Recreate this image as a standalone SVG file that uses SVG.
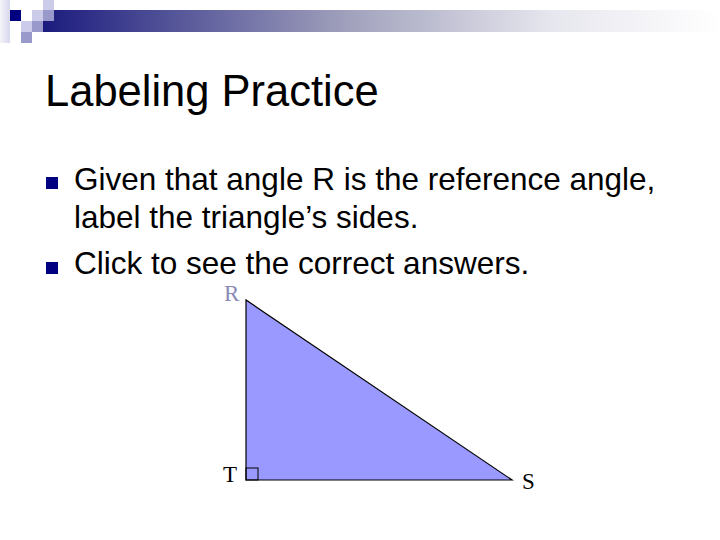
<svg xmlns="http://www.w3.org/2000/svg" width="720" height="540" viewBox="0 0 720 540">
<defs>
<linearGradient id="bar" x1="0" y1="0" x2="1" y2="0">
<stop offset="0" stop-color="#1a1a7e"/>
<stop offset="0.45" stop-color="#a0a0bc"/>
<stop offset="0.75" stop-color="#e6e6ee"/>
<stop offset="1" stop-color="#ffffff"/>
</linearGradient>
<linearGradient id="side" x1="0" y1="0" x2="1" y2="0">
<stop offset="0" stop-color="#f4f4fa"/>
<stop offset="1" stop-color="#d8d8ee"/>
</linearGradient>
<style>
.body{font-family:"Liberation Sans",Arial,sans-serif;font-size:31.5px;fill:#000}
.lbl{font-family:"Liberation Serif","Times New Roman",serif;font-size:23px}
.bul{fill:#000080}
</style>
</defs>
<g id="header">
<rect x="0" y="0" width="10" height="43" fill="url(#side)"/>
<rect x="40" y="10" width="680" height="22" fill="url(#bar)"/>
<rect x="10" y="10" width="11" height="11" fill="#000080"/>
<rect x="21" y="21" width="11" height="11" fill="#ccccea"/>
<rect x="21" y="32" width="11" height="11" fill="#9999cc"/>
<rect x="32" y="10" width="11" height="11" fill="#ccccea"/>
<rect x="32" y="21" width="11" height="11" fill="#9999cc"/>
<rect x="43" y="0" width="11" height="10" fill="#ccccea"/>
<rect x="43" y="10" width="11" height="11" fill="#9999cc"/>
</g>
<g id="title">
<text x="45" y="106" font-family="'Liberation Sans',Arial,sans-serif" font-size="43.5" fill="#000">Labeling Practice</text>
</g>
<g id="bullets">
<rect class="bul" x="46" y="177" width="12" height="12"/>
<text class="body" x="74" y="190">Given that angle R is the reference angle,</text>
<text class="body" x="74" y="228">label the triangle’s sides.</text>
<rect class="bul" x="46" y="262" width="12" height="12"/>
<text class="body" x="74" y="274">Click to see the correct answers.</text>
</g>
<g id="triangle">
<polygon points="246,300 246,480 512,480" fill="#9999ff" stroke="#000" stroke-width="1.2"/>
<rect x="246" y="468" width="12" height="12" fill="none" stroke="#000" stroke-width="1"/>
</g>
<g id="labels">
<text class="lbl" x="224" y="301" fill="#8a8ab4">R</text>
<text class="lbl" x="223" y="482" fill="#000">T</text>
<text class="lbl" x="522" y="489" fill="#000">S</text>
</g>
</svg>
